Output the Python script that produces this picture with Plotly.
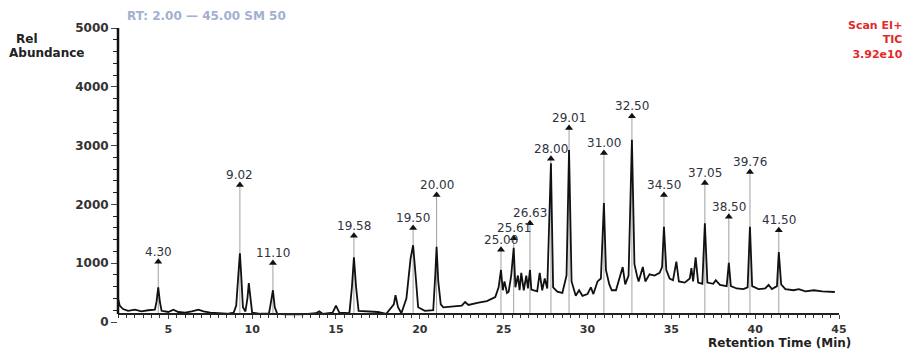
import plotly.graph_objects as go

# Chromatogram trace (retention time in min, relative abundance)
rt = [2.0, 2.1, 2.3, 2.6, 3.0, 3.4, 3.8, 4.2, 4.3, 4.4, 4.5, 4.6, 5.0, 5.3, 5.6, 6.0, 6.4, 6.8, 7.1, 7.5,
      8.0, 8.5, 8.9, 9.05, 9.15, 9.27, 9.35, 9.45, 9.6, 9.72, 9.8, 9.9, 10.0, 10.5, 11.0, 11.1, 11.24, 11.35,
      11.5, 12.0, 13.0, 13.8, 14.0, 14.2, 14.8, 15.0, 15.2, 15.8, 15.95, 16.07, 16.2, 16.35, 17.0, 17.5,
      18.0, 18.45, 18.55, 18.7, 18.9, 19.2, 19.45, 19.6, 19.75, 19.9, 20.3, 20.8, 20.92, 21.0, 21.1, 21.25,
      21.4, 22.0, 22.5, 22.7, 22.9, 23.5, 24.0, 24.5, 24.7, 24.84, 24.95, 25.05, 25.2, 25.3, 25.45, 25.6,
      25.7, 25.85, 25.95, 26.05, 26.2, 26.35, 26.45, 26.57, 26.65, 27.0, 27.15, 27.3, 27.45, 27.6, 27.82,
      27.95, 28.2, 28.5, 28.75, 28.9, 29.05, 29.3, 29.5, 29.7, 30.0, 30.2, 30.35, 30.6, 30.8, 30.98, 31.1,
      31.3, 31.45, 31.7, 31.95, 32.1, 32.25, 32.45, 32.65, 32.8, 32.95, 33.05, 33.3, 33.45, 33.7, 34.0,
      34.3, 34.45, 34.56, 34.7, 34.9, 35.1, 35.3, 35.45, 35.8, 36.1, 36.2, 36.3, 36.45, 36.6, 36.85, 37.0,
      37.15, 37.5, 37.65, 37.9, 38.3, 38.43, 38.55, 38.9, 39.3, 39.55, 39.69, 39.82, 40.2, 40.6, 40.8,
      41.0, 41.3, 41.41, 41.55, 41.8, 42.3, 42.6, 43.0, 43.5, 44.0, 44.75]
abundance = [400, 280, 220, 190, 210, 180, 200, 210, 350, 590, 340, 190, 170, 210, 170, 160, 180, 210, 180, 160,
             150, 140, 160, 280, 690, 1170, 790, 250, 180, 400, 660, 350, 160, 140, 140, 300, 540, 250,
             140, 130, 130, 150, 180, 140, 160, 280, 160, 150, 590, 1100, 590, 190, 180, 170,
             140, 300, 455, 250, 150, 400, 1080, 1305, 790, 250, 190, 200, 790, 1280, 690, 300,
             250, 260, 280, 340, 290, 330, 355, 425, 590, 885, 540, 690, 495, 515, 790, 1260,
             590, 790, 540, 835, 540, 790, 570, 885, 550, 520, 835, 540, 740, 570, 2700,
             590, 515, 495, 790, 2925, 690, 445, 540, 445, 475, 590, 475, 690, 740, 2025, 885,
             640, 540, 540, 790, 935, 640, 790, 3100, 985, 790, 690, 935, 690, 810, 790,
             835, 935, 1620, 885, 740, 710, 1025, 690, 670, 740, 915, 690, 1100, 670, 650, 1680,
             670, 650, 710, 630, 610, 1005, 610, 570, 560, 590, 1620, 610, 560, 570, 630,
             560, 610, 1190, 640, 560, 540, 560, 520, 540, 520, 510]

# Peak labels: position of the marked peak, height of the marker, printed label
peak_rt = [4.4, 9.27, 11.24, 16.07, 19.6, 21.0, 24.84, 25.6, 26.57, 27.82, 28.9, 30.98, 32.65,
           34.56, 37.0, 38.43, 39.69, 41.41]
marker_h = [1025, 2330, 1005, 1465, 1600, 2160, 1230, 1425, 1680, 2775, 3300, 2875, 3500,
            2160, 2365, 1790, 2550, 1560]
peak_text = ["4.30", "9.02", "11.10", "19.58", "19.50", "20.00", "25.00", "25.61", "26.63", "28.00",
             "29.01", "31.00", "32.50", "34.50", "37.05", "38.50", "39.76", "41.50"]

y_ticks = [0, 1000, 2000, 3000, 4000, 5000]
x_ticks = [5, 10, 15, 20, 25, 30, 35, 40, 45]

FONT = "DejaVu Sans"
AXIS_POS = 0.027          # x-axis line sits a little above the 0 tick, as in the original
AXIS_LEVEL = 140          # data level of that line, used as foot of the drop lines

# page body adds an 8px margin; figure sized to fit the 917x351 window
L, R, T, B, W, H = 110, 78, 20, 29, 909, 343
PW, PH = W - L - R, H - T - B
X0, Y0 = L + 8, T + 8 + PH  # absolute pixel of plot-area left / bottom


def px(x):
    return (x - X0) / PW


def py(y):
    return (Y0 - y) / PH


fig = go.Figure()

for x, h in zip(peak_rt, marker_h):
    fig.add_trace(go.Scatter(x=[x, x], y=[AXIS_LEVEL, h], mode="lines",
                             line=dict(color="#a0a0a0", width=1), hoverinfo="skip", showlegend=False))

fig.add_trace(go.Scatter(x=rt, y=abundance, mode="lines",
                         line=dict(color="#111111", width=1.8), showlegend=False))

fig.add_trace(go.Scatter(x=peak_rt, y=marker_h, mode="markers",
                         marker=dict(symbol="triangle-up", size=7, color="#111111"),
                         showlegend=False))

annotations = [
    dict(x=x, y=h, xref="x", yref="y", text=t, showarrow=False, yshift=10, yanchor="middle",
         font=dict(family=FONT, size=12, color="#2f3340"))
    for x, h, t in zip(peak_rt, marker_h, peak_text)
]
annotations += [
    dict(text="<b>RT: 2.00 — 45.00 SM 50</b>", xref="paper", yref="paper", x=px(125), y=py(16),
         xanchor="left", yanchor="middle", showarrow=False,
         font=dict(family=FONT, size=12, color="#a4b0cf")),
    dict(text="<b>Rel</b>", xref="paper", yref="paper", x=px(14), y=py(39),
         xanchor="left", yanchor="middle", showarrow=False,
         font=dict(family=FONT, size=12, color="#222222")),
    dict(text="<b>Abundance</b>", xref="paper", yref="paper", x=px(7), y=py(53),
         xanchor="left", yanchor="middle", showarrow=False,
         font=dict(family=FONT, size=12, color="#222222")),
    dict(text="<b>Scan EI+<br>TIC<br>3.92e10</b>", xref="paper", yref="paper", x=px(905), y=py(40),
         xanchor="right", yanchor="middle", showarrow=False, align="right",
         font=dict(family=FONT, size=11, color="#e52a2a")),
    dict(text="<b>Retention Time (Min)</b>", xref="paper", yref="paper", x=px(853), y=py(343),
         xanchor="right", yanchor="middle", showarrow=False,
         font=dict(family=FONT, size=12, color="#222222")),
]

fig.update_layout(
    width=W, height=H, margin=dict(l=L, r=R, t=T, b=B),
    paper_bgcolor="white", plot_bgcolor="white",
    font=dict(family=FONT, color="#222222"),
    xaxis=dict(range=[2, 45], tickvals=x_ticks, ticks="outside", ticklen=4, tickwidth=1.2,
               anchor="free", position=AXIS_POS,
               showline=True, linecolor="#222222", linewidth=1.5, showgrid=False, zeroline=False,
               ticklabelstandoff=1,
               tickfont=dict(family=FONT, size=11, color="#333333", weight="bold"),
               minor=dict(dtick=0.5, ticks="outside", ticklen=3, tickcolor="#333333")),
    yaxis=dict(range=[0, 5000], tickvals=y_ticks, ticks="outside", ticklen=6, tickwidth=1.2,
               showline=False, showgrid=False, zeroline=False,
               tickfont=dict(family=FONT, size=12, color="#333333", weight="bold"),
               minor=dict(dtick=200, ticks="outside", ticklen=4, tickcolor="#222222")),
    shapes=[dict(type="line", xref="paper", yref="paper", x0=0, x1=0, y0=AXIS_POS, y1=1,
                 line=dict(color="#111111", width=2.5))],
    annotations=annotations,
)

fig.write_html("out.html")
